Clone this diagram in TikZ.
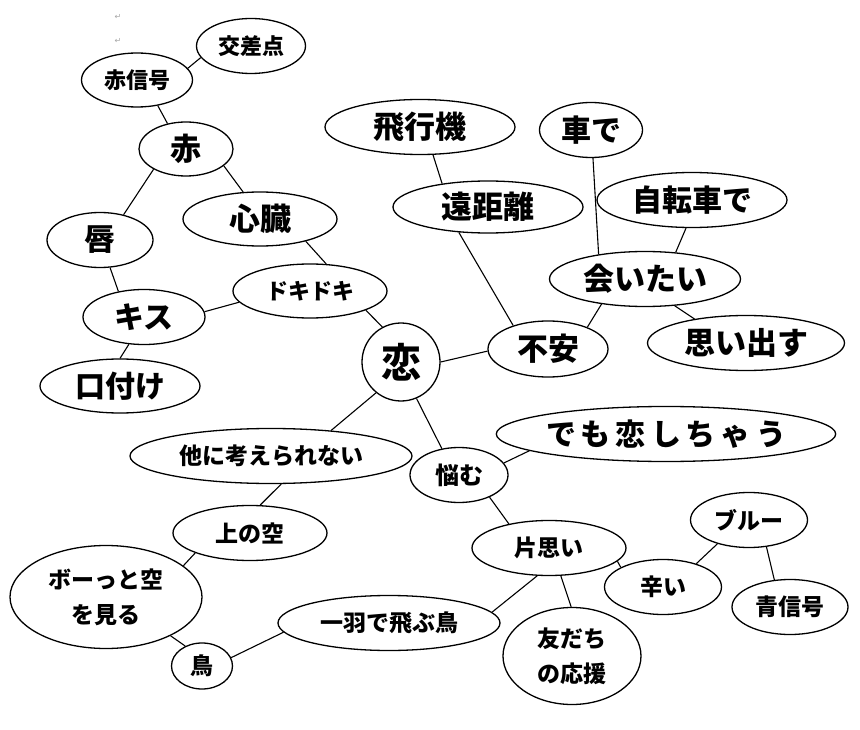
\documentclass[tikz,border=0pt]{standalone}
\usepackage{fontspec}
\newfontfamily\jp{Noto Sans CJK JP}
\newfontfamily\dv{DejaVu Sans}
\usetikzlibrary{shapes.geometric}
\newcommand{\fsz}[1]{\fontsize{#1}{35}\selectfont}
\tikzset{
  bub/.style={ellipse, draw, line width=1.3pt, inner sep=0pt, fill=white, align=center},
  f22/.style={font=\jp\bfseries\fsz{22}},
  f23/.style={font=\jp\bfseries\fsz{23}},
  f24/.style={font=\jp\bfseries\fsz{24}},
  f30/.style={font=\jp\bfseries\fsz{30}},
  f31/.style={font=\jp\bfseries\fsz{31}},
  f40/.style={font=\jp\bfseries\fsz{40}},
  link/.style={line width=1.1pt},
  pmark/.style={font=\dv\fontsize{8}{8}\selectfont, text=gray!70, inner sep=0pt}
}
\begin{document}
\begin{tikzpicture}[x=1pt,y=-1pt]
\useasboundingbox (0,0) rectangle (860,730);
\node[pmark] (pm1) at (118,17) {↵};
\node[pmark] (pm2) at (118,41) {↵};
\node[bub, f22, minimum width=109, minimum height=55] (kousa) at (251,46) {交差点};
\node[bub, f22, minimum width=111, minimum height=54] (akashin) at (137,80) {赤信号};
\node[bub, f31, minimum width=94, minimum height=54] (aka) at (186,149) {赤};
\node[bub, f31, minimum width=106, minimum height=55] (kuchibiru) at (100,240) {唇};
\node[bub, f31, minimum width=154, minimum height=54] (shinzou) at (260,219) {心臓};
\node[bub, f22, minimum width=154, minimum height=54] (doki) at (310,291) {ドキドキ};
\node[bub, f30, minimum width=122, minimum height=55] (kisu) at (144,317) {キス};
\node[bub, f30, minimum width=160, minimum height=54] (kuchizuke) at (120,386) {口付け};
\node[bub, f40, circle, minimum size=78] (koi) at (401,362) {恋};
\node[bub, f31, minimum width=120, minimum height=56] (fuan) at (548,349) {不安};
\node[bub, f31, minimum width=197, minimum height=55] (omoidasu) at (746,343) {思い出す};
\node[bub, f30, minimum width=338, minimum height=55] (demo) at (666,434) {で\,も\,恋\,し\,ち\,ゃ\,う};
\node[bub, f24, minimum width=98, minimum height=55] (nayamu) at (459,475) {悩む};
\node[bub, f31, minimum width=190, minimum height=55] (hikouki) at (420,127) {飛行機};
\node[bub, f30, minimum width=103, minimum height=55] (kurumade) at (591,130) {車で};
\node[bub, f31, minimum width=190, minimum height=52] (enkyori) at (488,207) {遠距離};
\node[bub, f30, minimum width=190, minimum height=55] (jitensha) at (692,200) {自転車で};
\node[bub, f31, minimum width=191, minimum height=55] (aitai) at (645,279) {会いたい};
\node[bub, f23, minimum width=282, minimum height=55] (hoka) at (271,456) {他に考えられない};
\node[bub, f23, minimum width=154, minimum height=55] (uwanosora) at (250,533) {上の空};
\node[bub, f23, minimum width=192, minimum height=103] (bootto) at (106,597) {ボーっと空\\を見る};
\node[bub, f23, minimum width=61, minimum height=46] (tori) at (202,666) {鳥};
\node[bub, f23, minimum width=222, minimum height=55] (ichiwa) at (389,623) {一羽で飛ぶ鳥};
\node[bub, f23, minimum width=154, minimum height=55] (kataomoi) at (549,548) {片思い};
\node[bub, f23, minimum width=117, minimum height=55] (tsurai) at (663,587) {辛い};
\node[bub, f23, minimum width=117, minimum height=55] (buruu) at (749,520) {ブルー};
\node[bub, f23, minimum width=116, minimum height=55] (aoshin) at (790,607) {青信号};
\node[bub, f23, minimum width=138, minimum height=97] (tomodachi) at (572,656) {友だち\\の応援};
\draw[link] (kousa.193) -- (akashin.13);
\draw[link] (akashin.-51) -- (aka.126);
\draw[link] (aka.212) -- (kuchibiru.47);
\draw[link] (aka.-24) -- (shinzou.122);
\draw[link] (shinzou.-26) -- (doki.59);
\draw[link] (doki.-19) -- (koi.118);
\draw[link] (doki.189) -- (kisu.5);
\draw[link] (kuchibiru.-70) -- (kisu.135);
\draw[link] (kisu.241) -- (kuchizuke.90);
\draw[link] (koi.0) -- (fuan.182);
\draw[link] (fuan.146) -- (enkyori.221);
\draw[link] (enkyori.153) -- (hikouki.-65);
\draw[link] (fuan.29) -- (aitai.210);
\draw[link] (aitai.152) -- (kurumade.-86);
\draw[link] (aitai.41) -- (jitensha.-102);
\draw[link] (aitai.-42) -- (omoidasu.155);
\draw[link] (koi.231) -- (hoka.23);
\draw[link] (koi.-67) -- (nayamu.123);
\draw[link] (nayamu.15) -- (demo.187);
\draw[link] (nayamu.-36) -- (kataomoi.149);
\draw[link] (hoka.-70) -- (uwanosora.70);
\draw[link] (uwanosora.200) -- (bootto.22);
\draw[link] (bootto.-31) -- (tori.130);
\draw[link] (tori.16) -- (ichiwa.185);
\draw[link] (ichiwa.6) -- (kataomoi.247);
\draw[link] (kataomoi.-67) -- (tomodachi.91);
\draw[link] (kataomoi.-11) -- (tsurai.155);
\draw[link] (tsurai.35) -- (buruu.217);
\draw[link] (buruu.-57) -- (aoshin.120);
\end{tikzpicture}
\end{document}
